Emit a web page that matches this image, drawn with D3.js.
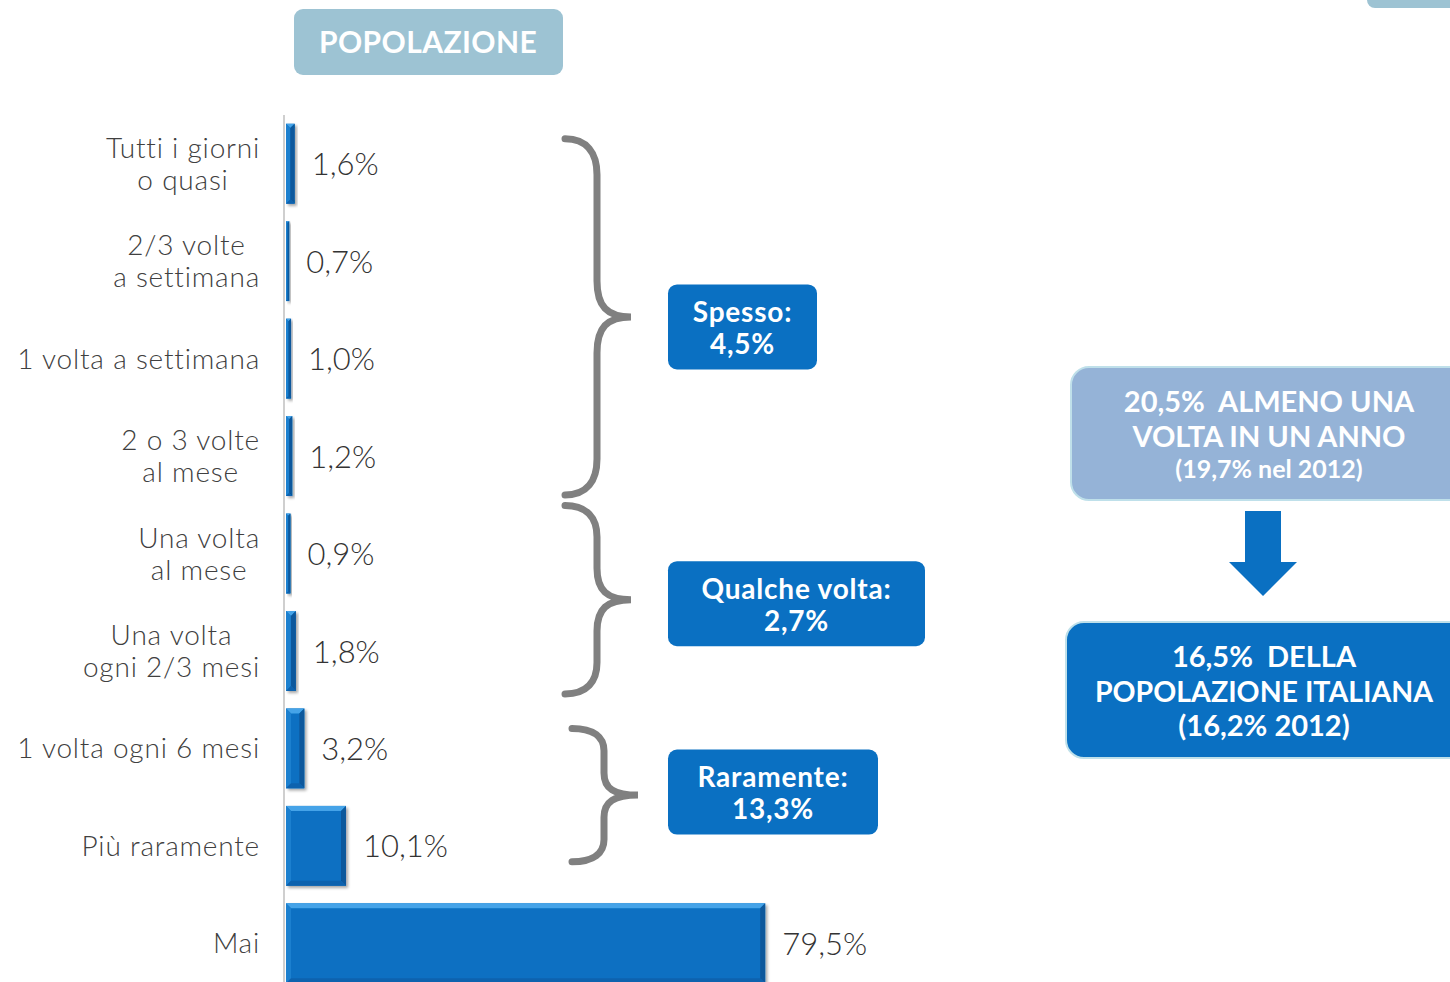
<!DOCTYPE html>
<html><head><meta charset="utf-8">
<script src="https://cdn.jsdelivr.net/npm/d3@7"></script>
<style>
html,body{margin:0;padding:0;background:#fff;}
svg{display:block;font-family:Lato,"Open Sans",sans-serif;}
text{white-space:pre;}
</style></head>
<body>
<svg id="c" width="1450" height="982"></svg>
<script>
// ---- data ----
const categories = [
  ["Tutti i giorni","o quasi"],
  ["2/3 volte","a settimana"],
  ["1 volta a settimana"],
  ["2 o 3 volte","al mese"],
  ["Una volta","al mese"],
  ["Una volta","ogni 2/3 mesi"],
  ["1 volta ogni 6 mesi"],
  ["Più raramente"],
  ["Mai"]
];
const values = [1.6, 0.7, 1.0, 1.2, 0.9, 1.8, 3.2, 10.1, 79.5];
const valueLabels = ["1,6%","0,7%","1,0%","1,2%","0,9%","1,8%","3,2%","10,1%","79,5%"];
const groupStart = [0, 4, 6];
const groupEnd = [3, 5, 7];
const groupLabels = [["Spesso:","4,5%"],["Qualche volta:","2,7%"],["Raramente:","13,3%"]];
const titleText = "POPOLAZIONE";
const summary1 = ["20,5%  ALMENO UNA","VOLTA IN UN ANNO","(19,7% nel 2012)"];
const summary2 = ["16,5%  DELLA","POPOLAZIONE ITALIANA","(16,2% 2012)"];

// ---- layout ----
const svg = d3.select("#c");
const idx = d3.range(categories.length);
const x = d3.scaleLinear().domain([0, 100]).range([285, 889]);
const y = d3.scaleBand().domain(idx).range([115, 992]).paddingInner(0.18).paddingOuter(0.09);
const bw = y.bandwidth();
const BLUE = "#0A70C2";

const defs = svg.append("defs");
const f = defs.append("filter").attr("id","sh").attr("x","-20%").attr("y","-20%").attr("width","150%").attr("height","150%");
f.append("feGaussianBlur").attr("in","SourceAlpha").attr("stdDeviation",1.5);
f.append("feOffset").attr("dx",2).attr("dy",2).attr("result","ob");
f.append("feComponentTransfer").append("feFuncA").attr("type","linear").attr("slope",0.35);
const m = f.append("feMerge"); m.append("feMergeNode"); m.append("feMergeNode").attr("in","SourceGraphic");

// title box
const tg = svg.append("g");
tg.append("rect").attr("x",294).attr("y",9).attr("width",269).attr("height",66).attr("rx",9).attr("fill","#9DC3D3");
tg.append("text").attr("x",428).attr("y",42).attr("dy","0.36em").attr("text-anchor","middle")
  .attr("fill","#fff").attr("font-weight",700).attr("font-size",30).attr("letter-spacing",0.4).text(titleText);
svg.append("rect").attr("x",1367).attr("y",-20).attr("width",120).attr("height",28).attr("rx",8).attr("fill","#9DC3D3");

// axis line
svg.append("line").attr("x1",284).attr("x2",284).attr("y1",115).attr("y2",982).attr("stroke","#CFCFCF").attr("stroke-width",2);

// bars with bevel
const bars = svg.append("g");
idx.forEach(i => {
  const x0 = x(0) + 1, x1 = x(values[i]), y0 = y(i), y1 = y(i) + bw;
  const w = x1 - x0;
  const b = Math.min(5, w / 2);
  const g = bars.append("g").attr("filter","url(#sh)");
  g.append("rect").attr("x",x0).attr("y",y0).attr("width",w).attr("height",bw).attr("fill",BLUE);
  const poly = (pts, c) => g.append("polygon").attr("points", pts.map(p=>p.join(",")).join(" ")).attr("fill", c);
  poly([[x0,y0],[x1,y0],[x1-b,y0+b],[x0+b,y0+b]], "#45A3E8");
  poly([[x0,y0],[x0+b,y0+b],[x0+b,y1-b],[x0,y1]], "#1F80CF");
  poly([[x1,y0],[x1,y1],[x1-b,y1-b],[x1-b,y0+b]], "#08589C");
  poly([[x0,y1],[x1,y1],[x1-b,y1-b],[x0+b,y1-b]], "#0862AE");
});

// value labels
svg.append("g").selectAll("text").data(idx).join("text")
  .attr("x", i => x(values[i]) + 17)
  .attr("y", i => y(i) + bw/2 + 0.5)
  .attr("dy","0.36em")
  .attr("fill","#333").attr("font-size",31).attr("font-weight",300)
  .text(i => valueLabels[i]);

// category labels
const cg = svg.append("g");
idx.forEach(i => {
  const lines = categories[i];
  const t = cg.append("text").attr("fill","#404040").attr("font-size",28).attr("font-weight",300)
    .attr("letter-spacing",0.8).attr("text-anchor","middle");
  const lh = 32;
  lines.forEach((l, k) => t.append("tspan").attr("x",0).attr("y", y(i) + bw/2 + (k - (lines.length-1)/2) * lh).attr("dy","0.36em").text(l));
  const wmax = d3.max(t.selectAll("tspan").nodes(), n => n.getComputedTextLength());
  t.selectAll("tspan").attr("x", 260 - wmax/2);
});

// brackets
const bx = [565, 565, 572];
const topOff = [15, -8, 20];
const botOff = [-1, 3, -24];
const bg = svg.append("g").attr("fill","none").attr("stroke","#808080").attr("stroke-width",7).attr("stroke-linecap","round");
const tips = [];
groupStart.forEach((s, k) => {
  const top = y(s) + topOff[k], bot = y(groupEnd[k]) + bw + botOff[k];
  const mid = (top + bot) / 2;
  const x0 = bx[k], xv = x0 + 32, xt = x0 + 66;
  const r = Math.min(36, (mid - top) / 3);
  const p = d3.path();
  p.moveTo(x0, top);
  p.bezierCurveTo(x0+22, top, xv, top+r*0.4, xv, top+r);
  p.lineTo(xv, mid - r);
  p.bezierCurveTo(xv, mid - r*0.3, xv+10, mid, xt, mid);
  p.bezierCurveTo(xv+10, mid, xv, mid + r*0.3, xv, mid + r);
  p.lineTo(xv, bot - r);
  p.bezierCurveTo(xv, bot - r*0.4, x0+22, bot, x0, bot);
  bg.append("path").attr("d", p.toString());
  tips.push(mid);
});

// group boxes
const boxW = [149, 257, 210];
const boxDy = [10, 4, -3];
groupLabels.forEach((lab, k) => {
  const cy = tips[k] + boxDy[k];
  const g = svg.append("g");
  g.append("rect").attr("x",668).attr("y",cy-42.5).attr("width",boxW[k]).attr("height",85).attr("rx",9).attr("fill",BLUE);
  lab.forEach((l, j) => g.append("text").attr("x",668+boxW[k]/2).attr("y",cy - 15 + j*32).attr("dy","0.36em")
    .attr("text-anchor","middle").attr("fill","#fff").attr("font-weight",700).attr("font-size",28).attr("letter-spacing",0.8).text(l));
});

// summary boxes
const s1 = svg.append("g");
s1.append("rect").attr("x",1071).attr("y",367).attr("width",420).attr("height",133).attr("rx",18)
  .attr("fill","#95B3D7").attr("stroke","#BFE0EA").attr("stroke-width",2);
const s1y = [402, 437, 469], s1fs = [29, 29, 25];
summary1.forEach((l, j) => s1.append("text").attr("x",1269).attr("y",s1y[j]).attr("dy","0.36em").attr("text-anchor","middle")
  .attr("fill","#fff").attr("font-weight",700).attr("font-size",s1fs[j]).text(l));

svg.append("path").attr("d","M1245,511 L1281,511 L1281,562 L1297,562 L1263,596 L1229,562 L1245,562 Z").attr("fill",BLUE);

const s2 = svg.append("g");
s2.append("rect").attr("x",1066).attr("y",622).attr("width",420).attr("height",136).attr("rx",18)
  .attr("fill",BLUE).attr("stroke","#BFE0EA").attr("stroke-width",2);
const s2y = [657, 692, 726];
summary2.forEach((l, j) => s2.append("text").attr("x",1264).attr("y",s2y[j]).attr("dy","0.36em").attr("text-anchor","middle")
  .attr("fill","#fff").attr("font-weight",700).attr("font-size",j===1?28.5:29).text(l));
</script>
</body></html>
